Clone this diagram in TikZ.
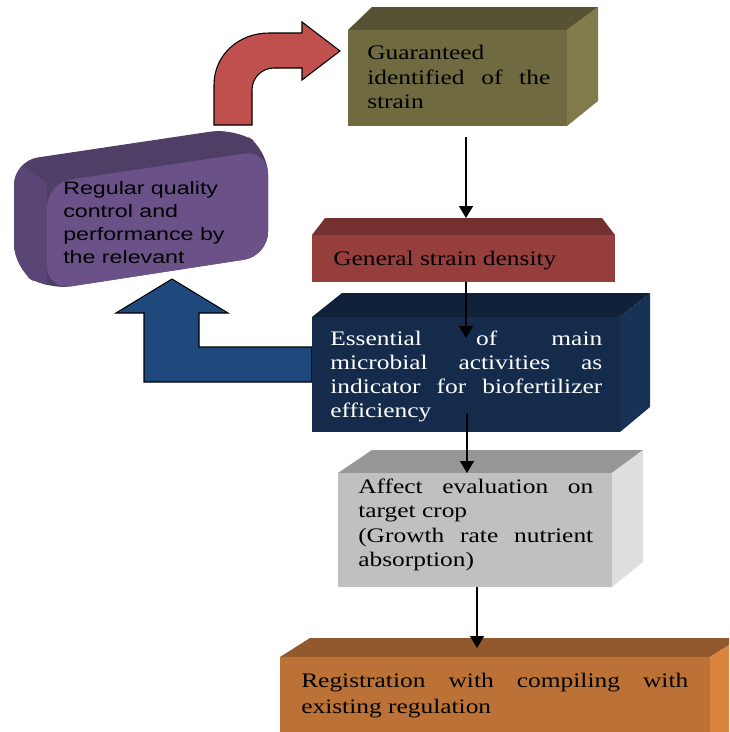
\documentclass[tikz,border=0pt]{standalone}
\usepackage{fontspec}
\setmainfont{Liberation Serif}[FakeStretch=1.23]
\newfontfamily\purplefont{Liberation Sans}[FakeStretch=1.29]
\usetikzlibrary{arrows.meta}
\definecolor{olF}{HTML}{6F6A40}
\definecolor{olT}{HTML}{575234}
\definecolor{olR}{HTML}{817B4C}
\definecolor{rbF}{HTML}{953E3C}
\definecolor{rbT}{HTML}{74302F}
\definecolor{nvF}{HTML}{142B4B}
\definecolor{nvT}{HTML}{10223A}
\definecolor{nvR}{HTML}{183255}
\definecolor{gyF}{HTML}{C0C0C0}
\definecolor{gyT}{HTML}{979797}
\definecolor{gyR}{HTML}{DEDEDE}
\definecolor{orF}{HTML}{BC7136}
\definecolor{orT}{HTML}{92592C}
\definecolor{orR}{HTML}{DB8440}
\definecolor{puF}{HTML}{6A5289}
\definecolor{puT}{HTML}{4F3E65}
\definecolor{puL}{HTML}{5A4676}
\definecolor{redArr}{HTML}{C0504D}
\definecolor{blueArr}{HTML}{1F497D}
\begin{document}
\begin{tikzpicture}[x=0.75pt,y=-0.75pt,
  conn/.style={line width=1.2pt,-{Triangle[length=9pt,width=10.5pt]}},
  ser/.style={anchor=base west,inner sep=0pt,font=\fontsize{15.5pt}{18.75pt}\selectfont},
  san/.style={anchor=base west,inner sep=0pt,font=\purplefont\fontsize{13.5pt}{17pt}\selectfont},
  outl/.style={draw=black,line width=0.8pt,line join=miter}]
\useasboundingbox (0,0) rectangle (729,732);
\clip (0,0) rectangle (729,732);
\fill[white] (0,0) rectangle (729,732);

% olive box
\fill[olT] (348,30) -- (372,7) -- (598,7) -- (567,30) -- cycle;
\fill[olR] (567,30) -- (598,7) -- (598,101) -- (567,126) -- cycle;
\fill[olF] (348,30) rectangle (567,126);

% red bent arrow
\draw[outl,fill=redArr] (214,125) -- (214,85) .. controls (214,55) and (238.6,33) .. (269,33)
  -- (302,33) -- (302,22) -- (340,51) -- (302,80) -- (302,68) -- (274,68)
  .. controls (261.8,68) and (252,77.8) .. (252,90) -- (252,125) -- cycle;

% purple box
\fill[puT, rounded corners=18] (14,161) -- (235,128) -- (268,150) -- (268,256) -- (47,290) -- (14,268) -- cycle;
\begin{scope}
  \clip[rounded corners=18] (14,161) -- (235,128) -- (268,150) -- (268,256) -- (47,290) -- (14,268) -- cycle;
  \fill[puL] (0,150) -- (47,183) -- (47,300) -- (0,300) -- cycle;
\end{scope}
\fill[puF, rounded corners=18] (47,183) -- (268,150) -- (268,256) -- (47,290) -- cycle;

% red strain box
\fill[rbT] (312,235) -- (325,218) -- (602,218) -- (615,235) -- cycle;
\fill[rbF] (312,235) rectangle (615,282);

% blue arrow
\draw[outl,fill=blueArr] (312,347) -- (199,347) -- (199,313) -- (228,313) -- (172,279)
  -- (116,313) -- (144,313) -- (144,382) -- (312,382) -- cycle;

% navy box
\fill[nvT] (312,317) -- (342,293) -- (650,293) -- (620,317) -- cycle;
\fill[nvR] (620,317) -- (650,293) -- (650,407) -- (620,432) -- cycle;
\fill[nvF] (312,317) rectangle (620,432);

% gray box
\fill[gyT] (338,473) -- (372,450) -- (643,450) -- (612,473) -- cycle;
\fill[gyR] (612,473) -- (643,450) -- (643,562) -- (612,587) -- cycle;
\fill[gyF] (338,473) rectangle (612,587);

% orange box
\fill[orT] (280,657) -- (310,638) -- (740,638) -- (710,657) -- cycle;
\fill[orR] (710,657) -- (740,638) -- (740,740) -- (710,740) -- cycle;
\fill[orF] (280,657) rectangle (710,740);

% texts
\node[ser] (g1) at (367,59) {Guaranteed};
\node[ser] (g2) at (367,84) {\makebox[137.25pt][s]{identified of the}};
\node[ser] (g3) at (367,108) {strain};

\node[san] (p1) at (63,194) {Regular quality};
\node[san] (p2) at (63,217) {control and};
\node[san] (p3) at (63,240) {performance by};
\node[san] (p4) at (63,263) {the relevant};

\node[ser] (r1) at (333,265) {General strain density};

\node[ser,text=white] (n1) at (330,345) {\makebox[204pt][s]{Essential of main}};
\node[ser,text=white] (n2) at (330,369) {\makebox[204pt][s]{microbial activities as}};
\node[ser,text=white] (n3) at (330,393) {\makebox[204pt][s]{indicator for biofertilizer}};
\node[ser,text=white] (n4) at (330,417) {efficiency};

\node[ser] (a1) at (358,493) {\makebox[176.25pt][s]{Affect evaluation on}};
\node[ser] (a2) at (358,517) {target crop};
\node[ser] (a3) at (358,542) {\makebox[176.25pt][s]{(Growth rate nutrient}};
\node[ser] (a4) at (358,566) {absorption)};

\node[ser] (o1) at (301,687) {\makebox[290.25pt][s]{Registration with compiling with}};
\node[ser] (o2) at (301,713) {existing regulation};

% connectors
\coordinate (c1s) at (466,137); \coordinate (c1e) at (466,218);
\coordinate (c2s) at (466,282); \coordinate (c2e) at (466,338);
\coordinate (c3s) at (467,413); \coordinate (c3e) at (467,473);
\coordinate (c4s) at (477,587); \coordinate (c4e) at (477,648);
\draw[conn] (c1s) -- (c1e);
\draw[conn] (c2s) -- (c2e);
\draw[conn] (c3s) -- (c3e);
\draw[conn] (c4s) -- (c4e);
\end{tikzpicture}
\end{document}
